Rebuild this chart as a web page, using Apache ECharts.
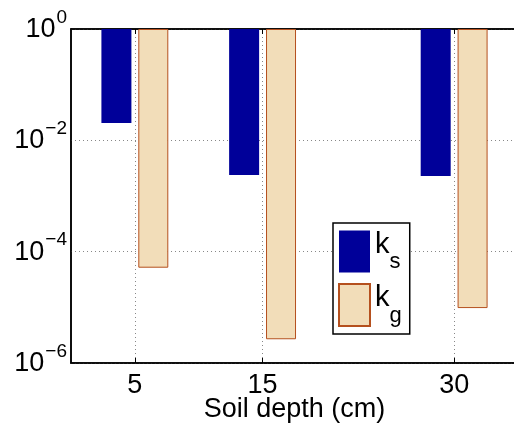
<!DOCTYPE html>
<html>
<head>
<meta charset="utf-8">
<script src="https://cdn.jsdelivr.net/npm/echarts@6/dist/echarts.min.js"></script>
<style>html,body{margin:0;padding:0;background:#fff;}#c{width:514px;height:427px;}</style>
</head>
<body>
<div id="c"></div>
<script>
const depths = [5, 15, 30];
const ks = [0.0205, 0.00238, 0.00229];
const kg = [5.15e-5, 2.67e-6, 9.7e-6];
const yTicks = [1e-6, 1e-4, 1e-2, 1];
const seriesNames = ['ks', 'kg'];
const legendLabels = {ks: ['k', 's'], kg: ['k', 'g']};

const FONT = 'Liberation Sans';
const chart = echarts.init(document.getElementById('c'), null, {renderer: 'canvas'});

function expLabel(v) {
  const e = Math.round(Math.log10(v));
  const s = e < 0 ? '\u2212' + (-e) : String(e);
  return '{b|10}{sup|' + s + '}';
}

const gridLine = {color: '#888', type: [1, 3], width: 1};

chart.setOption({
  animation: false,
  backgroundColor: '#fff',
  grid: {left: 71, top: 29, right: -4, bottom: 64, containLabel: false, outerBoundsMode: 'none',
         show: true, borderColor: '#000', borderWidth: 1.5, backgroundColor: 'transparent'},
  legend: {
    data: seriesNames,
    orient: 'vertical',
    left: 333, top: 223,
    padding: [7, 8, 7, 5],
    itemWidth: 31, itemHeight: 42, itemGap: 10,
    backgroundColor: '#fff', borderColor: '#000', borderWidth: 1.5, borderRadius: 0,
    icon: 'rect',
    formatter: n => '{k|' + legendLabels[n][0] + '}{s|' + legendLabels[n][1] + '}',
    textStyle: {
      fontFamily: FONT, color: '#000',
      rich: {
        k: {fontSize: 29, fontFamily: FONT, color: '#000', verticalAlign: 'bottom', padding: [0, 0, 14, 0]},
        s: {fontSize: 22, fontFamily: FONT, color: '#000', verticalAlign: 'bottom'}
      }
    }
  },
  xAxis: [{
    type: 'value', min: 0, max: 35,
    name: 'Soil depth (cm)', nameLocation: 'middle', nameGap: 33, nameMoveOverlap: false,
    nameTextStyle: {fontFamily: FONT, fontSize: 27, color: '#000'},
    axisLine: {show: true, lineStyle: {color: '#000', width: 1.5}},
    axisTick: {show: true, inside: true, length: 5, customValues: depths, lineStyle: {color: '#000', width: 1}},
    axisLabel: {customValues: depths, fontFamily: FONT, fontSize: 27, color: '#000', margin: 9},
    splitLine: {show: true, lineStyle: gridLine}
  }, {
    type: 'value', min: 0, max: 35, position: 'top',
    axisLine: {show: true, lineStyle: {color: '#000', width: 1.5}},
    axisTick: {show: true, inside: true, length: 5, customValues: depths, lineStyle: {color: '#000', width: 1}},
    axisLabel: {show: false},
    splitLine: {show: false}
  }],
  yAxis: {
    type: 'log', logBase: 10, min: 1e-6, max: 1,
    axisLine: {show: true, lineStyle: {color: '#000', width: 1.5}},
    axisTick: {show: false, customValues: yTicks},
    axisLabel: {
      customValues: yTicks,
      formatter: expLabel,
      margin: 4,
      rich: {
        b: {fontFamily: FONT, fontSize: 27, color: '#000', verticalAlign: 'bottom', lineHeight: 28},
        sup: {fontFamily: FONT, fontSize: 19, color: '#000', verticalAlign: 'bottom', lineHeight: 18, padding: [0, 0, 16, 1]}
      }
    },
    splitLine: {show: true, lineStyle: gridLine}
  },
  series: [{
    name: 'ks', type: 'bar', barWidth: 30, barGap: '23%',
    data: depths.map((d, i) => [d, ks[i]]),
    itemStyle: {color: '#000099'},
    z: 2
  }, {
    name: 'kg', type: 'bar', barWidth: 30, barGap: '23%',
    data: depths.map((d, i) => [d, kg[i]]),
    itemStyle: {color: '#f2ddb9', borderColor: '#b5501e', borderWidth: 1},
    z: 2
  }]
});
</script>
</body>
</html>
